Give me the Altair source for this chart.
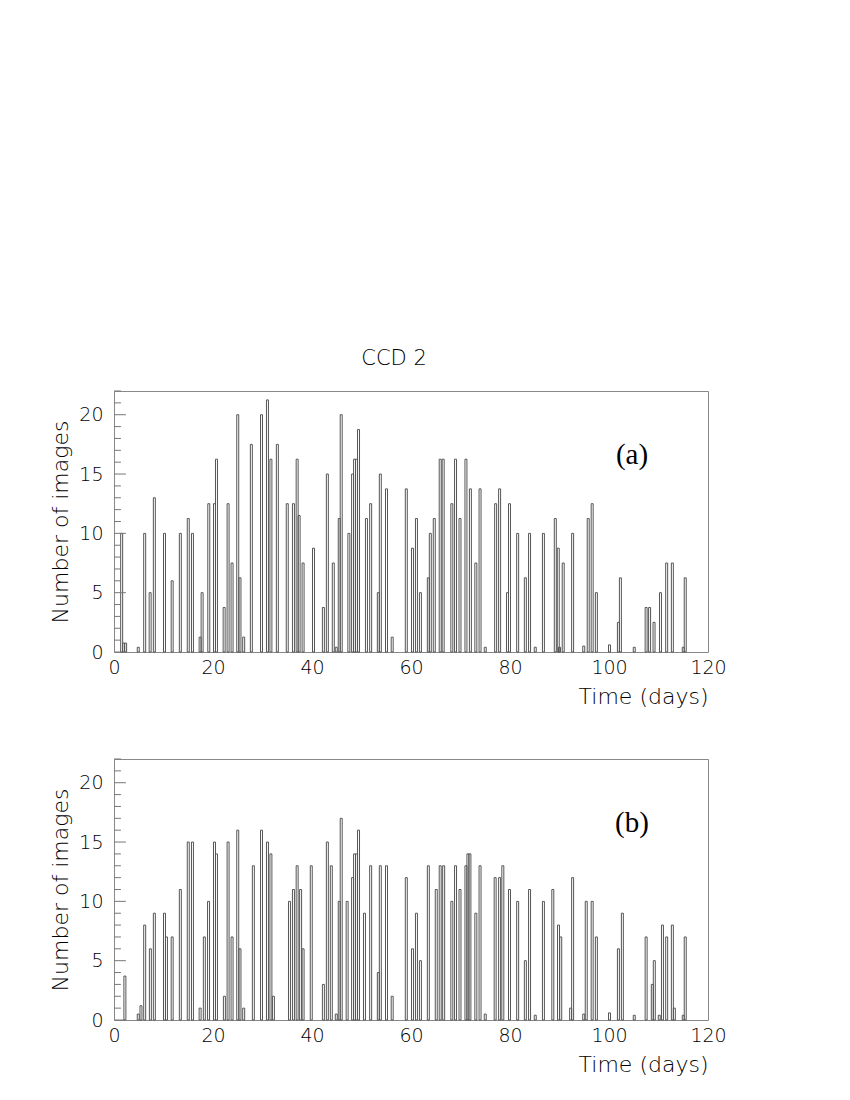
import altair as alt
import pandas as pd

BIN = 0.4  # bin width in days

a_day = [1.55, 1.95, 2.35, 4.9, 6.2, 7.3, 8.15, 10.2, 11.75, 13.4, 15.0, 15.85, 17.4, 17.8,
         19.15, 20.3, 20.7, 22.25, 23.05, 23.85, 25.0, 25.45, 26.2, 27.75, 29.8, 31.0, 31.7,
         33.0, 35.0, 36.25, 37.0, 37.4, 38.2, 40.3, 42.3, 43.1, 44.3, 44.9, 45.5, 45.9, 47.45,
         48.2, 48.6, 49.0, 49.4, 51.0, 51.85, 53.4, 53.8, 55.05, 56.2, 59.05, 60.3, 61.1, 61.9,
         63.5, 63.9, 64.7, 65.9, 66.5, 68.25, 69.0, 69.9, 71.1, 72.0, 73.1, 73.95, 75.0, 77.1,
         77.9, 79.5, 79.9, 81.55, 83.1, 83.95, 85.1, 86.75, 89.15, 89.75, 90.0, 90.75, 92.65,
         94.9, 95.8, 96.6, 97.45, 100.1, 101.9, 102.3, 105.1, 107.5, 108.2, 109.1, 110.4,
         111.65, 112.8, 115.0, 115.4]
a_count = [10, 0.75, 0.75, 0.4, 10, 5, 13, 10, 6, 10, 11.25, 10, 1.25, 5,
           12.5, 12.5, 16.25, 3.75, 12.5, 7.5, 20, 6.25, 1.25, 17.5, 20, 21.25, 16.25,
           17.5, 12.5, 12.5, 16.25, 11.5, 7.5, 8.75, 3.75, 15, 7.5, 0.4, 11.25, 20, 10,
           15, 16.25, 16.25, 18.75, 11.25, 12.5, 5, 15, 13.75, 1.25, 13.75, 8.75, 11.25, 5,
           6.25, 10, 11.25, 16.25, 16.25, 12.5, 16.25, 11.25, 16.25, 13.75, 7.5, 13.75, 0.4, 12.5,
           13.75, 5, 12.5, 10, 6.25, 10, 0.4, 10, 11.25, 8.75, 0.4, 7.5, 10,
           0.5, 11.25, 12.5, 5, 0.6, 2.5, 6.25, 0.4, 3.75, 3.75, 2.5, 5,
           7.5, 7.5, 0.4, 6.25]

b_day = [2.2, 4.9, 5.45, 6.2, 7.35, 8.15, 10.2, 10.6, 11.75, 13.4, 15.0, 15.85, 17.4, 18.25,
         19.1, 20.3, 20.7, 22.3, 23.05, 23.85, 25.0, 25.45, 26.2, 28.15, 29.8, 31.0, 31.7, 32.2,
         35.45, 36.25, 37.0, 37.7, 38.2, 39.85, 42.3, 43.1, 43.9, 44.9, 45.5, 45.9, 47.1,
         48.2, 48.6, 49.0, 49.4, 50.6, 51.85, 53.4, 53.8, 55.05, 56.2, 59.05, 60.3, 61.1, 61.9,
         63.5, 65.1, 65.9, 66.6, 68.25, 69.0, 69.9, 71.1, 71.5, 71.9, 73.1, 73.95, 75.0, 77.0,
         77.9, 78.55, 79.9, 81.55, 83.1, 83.95, 85.1, 86.75, 88.65, 89.8, 90.25, 92.25, 92.65,
         94.9, 95.4, 96.6, 97.45, 100.1, 101.9, 102.7, 105.1, 107.5, 108.75, 109.15, 110.15,
         110.8, 111.65, 112.8, 113.2, 115.0, 115.4]
b_count = [3.7, 0.5, 1.2, 8, 6, 9, 9, 7, 7, 11, 15, 15, 1, 7,
           10, 15, 14, 2, 15, 7, 16, 6, 1, 13, 16, 15, 14, 2,
           10, 11, 13, 11, 6, 13, 3, 15, 13, 0.5, 10, 17, 10,
           12, 14, 14, 16, 9, 13, 4, 13, 13, 2, 12, 6, 9, 5,
           13, 11, 13, 13, 10, 13, 11, 13, 14, 14, 9, 13, 0.5, 12,
           12, 13, 11, 10, 5, 11, 0.4, 10, 11, 8, 7, 1, 12,
           0.5, 10, 10, 7, 0.6, 6, 9, 0.4, 7, 3, 5, 0.4,
           8, 7, 8, 1, 0.4, 7]

x_labels = [0, 20, 40, 60, 80, 100, 120]
y_labels = [0, 5, 10, 15, 20]
y_minor = [v for v in range(0, 23) if v % 5 != 0]

FONT = "DejaVu Sans"
W, H = 594, 261
MAJOR_LEN = 2.4   # tick lengths in days (about 12 px and 7 px)
MINOR_LEN = 1.4


def panel(days, counts, tag, title=None):
    df = pd.DataFrame({"day": days, "n": counts})
    df["x0"] = df["day"] - BIN / 2
    df["x1"] = df["day"] + BIN / 2
    df["z"] = 0.0

    yenc = alt.Y("n:Q", scale=alt.Scale(domain=[0, 22], nice=False),
                 axis=alt.Axis(values=y_labels, ticks=False, domain=False, grid=False,
                               title="Number of images", labelPadding=11, titlePadding=6))
    xenc = alt.X("x0:Q", scale=alt.Scale(domain=[0, 120], nice=False),
                 axis=alt.Axis(values=x_labels, ticks=False, domain=False, grid=False,
                               title="Time (days)", titleAnchor="end", titleAlign="right",
                               labelPadding=6, titlePadding=9, labelFlush=False))

    bars = alt.Chart(df).mark_rect(fillOpacity=0, stroke="#555", strokeWidth=1).encode(
        x=xenc, x2="x1:Q", y=yenc, y2="z:Q")

    tdf_major = pd.DataFrame({"n": y_labels, "x0": 0.0, "x1": MAJOR_LEN})
    tdf_minor = pd.DataFrame({"n": y_minor, "x0": 0.0, "x1": MINOR_LEN})
    major = alt.Chart(tdf_major).mark_rule(color="#777", strokeWidth=1).encode(
        y=yenc, x=xenc, x2="x1:Q")
    minor = alt.Chart(tdf_minor).mark_rule(color="#777", strokeWidth=1).encode(
        y=yenc, x=xenc, x2="x1:Q")

    label = alt.Chart(pd.DataFrame({"t": [tag]})).mark_text(
        font="Liberation Serif", fontSize=29, color="black", align="center",
        baseline="middle").encode(text="t:N", x=alt.value(518), y=alt.value(64))

    props = dict(width=W, height=H)
    if title is not None:
        props["title"] = alt.TitleParams(title, fontSize=21, font=FONT, fontWeight=300,
                                         color="#000", anchor="middle", dx=-17, offset=22)
    return alt.layer(bars, major, minor, label).properties(**props)


chart = alt.vconcat(
    panel(a_day, a_count, "(a)", "CCD 2"),
    panel(b_day, b_count, "(b)"),
    spacing=50,
).properties(
    padding={"left": 41, "top": 339, "right": 10, "bottom": 10},
    background="white",
).configure_view(
    stroke="#888", strokeWidth=1
).configure_axis(
    labelFont=FONT, labelFontSize=19, labelColor="#000", labelFontWeight=300,
    titleFont=FONT, titleFontSize=22, titleColor="#000", titleFontWeight=300
)

chart.save("out.html", embed_options={"renderer": "svg", "actions": False})
